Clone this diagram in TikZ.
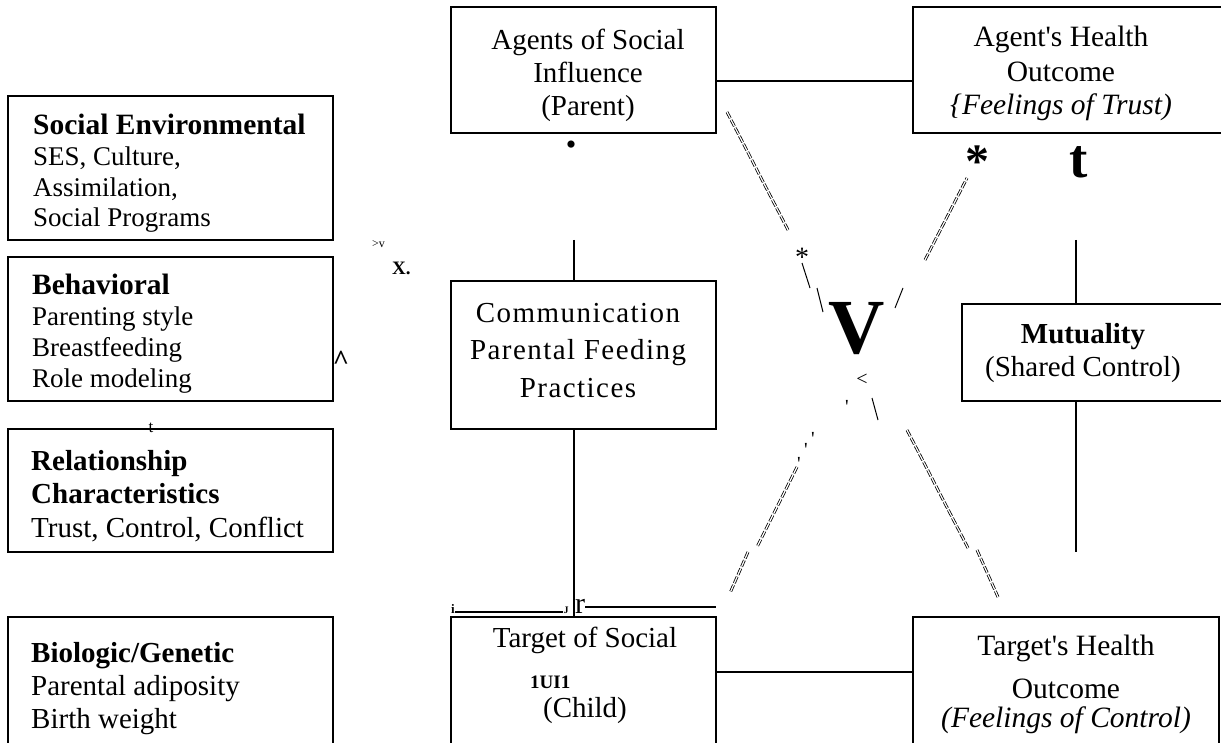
\documentclass[tikz,border=0pt]{standalone}
\usepackage{fontspec}
\setmainfont{Liberation Serif}
\usetikzlibrary{positioning,fit}

\tikzset{
  box/.style={draw, line width=1.3pt, inner sep=0pt},
  lbl/.style={inner sep=0pt, anchor=base west, align=left, font=\fontsize{29}{33}\selectfont},
  clbl/.style={inner sep=0pt, anchor=base, align=center, font=\fontsize{29}{33}\selectfont},
  link/.style={line width=1.3pt},
  hatch/.style={double, double distance=1.2pt, line width=0.8pt, dash pattern=on 7pt off 2pt},
  stroke/.style={line width=1pt},
  odd/.style={inner sep=0pt, anchor=base}
}
\newcommand\headbf[1]{{\fontsize{29.5}{30.7}\selectfont\bfseries #1}}

\begin{document}
\begin{tikzpicture}[x=1pt, y=-1pt]
  \useasboundingbox (0,0) rectangle (1221,743);
  \clip (0,0) rectangle (1221,743);

  % left column of factors (texts sit on the baseline of their last line)
  \node[box, fit={(8,96) (333,240)}] (socenv) {};
  \node[box, fit={(8,257) (333,401)}] (behav) {};
  \node[box, fit={(8,429) (333,552)}] (relat) {};
  \node[box, fit={(8,617) (333,760)}] (biol) {};
  \node[lbl, font=\fontsize{27}{30.7}\selectfont] (socenvtxt) at (33,227)
    {\headbf{Social Environmental}\\SES, Culture,\\Assimilation,\\Social Programs};
  \node[lbl, font=\fontsize{27}{30.7}\selectfont] (behavtxt) at (32,387)
    {\headbf{Behavioral}\\Parenting style\\Breastfeeding\\Role modeling};
  \node[lbl, font=\fontsize{29}{33.5}\selectfont] (relattxt) at (31,537)
    {\textbf{Relationship}\\\textbf{Characteristics}\\Trust, Control, Conflict};
  \node[lbl] (bioltxt) at (31,728)
    {\textbf{Biologic/Genetic}\\Parental adiposity\\Birth weight};

  % the model itself
  \node[box, fit={(451,7) (716,133)}] (agents) {};
  \node[box, fit={(451,281) (716,429)}] (comm) {};
  \node[box, fit={(451,617) (716,760)}] (target) {};
  \node[box, fit={(913,7) (1240,133)}] (agenth) {};
  \node[box, fit={(962,304) (1240,401)}] (mutual) {};
  \node[box, fit={(913,617) (1219,760)}] (targeth) {};

  \node[clbl] (agentstxt) at (588,116) {Agents of Social\\Influence\\(Parent)};
  \node[clbl, font=\fontsize{29}{37.5}\selectfont\addfontfeature{LetterSpace=5}] (commtxt) at (578,397)
    {Communication\\Parental Feeding\\Practices};
  \node[clbl] (targettxt) at (585,717) {Target of Social\\[37pt](Child)};
  \node[odd, anchor=base west, font=\bfseries\fontsize{19}{19}\selectfont] (uii) at (530,688) {1UI1};
  \node[clbl, font=\fontsize{29.5}{35}\selectfont] (agenthtxt) at (1061,115)
    {Agent\textquotesingle s Health\\Outcome\\[-2pt]\textit{\{Feelings of Trust)}};
  \node[clbl] (mutualtxt) at (1083,377) {\textbf{Mutuality}\\(Shared Control)};
  \node[clbl, font=\fontsize{29.5}{33}\selectfont] (targethtxt) at (1066,727)
    {Target\textquotesingle s Health\\[10pt]Outcome\\[-4pt]\textit{(Feelings of Control)}};

  % connectors
  \draw[link] ([yshift=-11pt]agents.east) -- ([yshift=-11pt]agenth.west);
  \draw[link] ([yshift=16.5pt]target.east) -- ([yshift=16.5pt]targeth.west);
  \coordinate (commtop) at (574,240);
  \draw[link] (commtop) -- (commtop |- comm.north);
  \draw[link] (commtop |- comm.south) -- (commtop |- target.north);
  \coordinate (muttop) at (1076,240);
  \coordinate (mutbot) at (1076,552);
  \draw[link] (muttop) -- (muttop |- mutual.north);
  \draw[link] (mutbot |- mutual.south) -- (mutbot);

  % bracket over the target box
  \node[odd, font=\bfseries\fontsize{13}{13}\selectfont] (bri) at (453,613) {i};
  \node[odd, font=\bfseries\fontsize{10}{10}\selectfont] (brj) at (566,613) {J};
  \node[odd, anchor=base west, font=\fontsize{30}{30}\selectfont] (brr) at (575,613) {r};
  \coordinate (brend) at (716,607);
  \draw[line width=2pt] ([yshift=1pt]bri.base east) -- ([yshift=1pt]brj.base west);
  \draw[line width=2pt] ([yshift=6pt]brr.base east) -- (brend);

  % crossing diagonals
  \draw[hatch] (727,112) -- (788,230);
  \draw[stroke] (802,263) -- (810,288);
  \draw[stroke] (817,288) -- (823,312);
  \draw[stroke] (903,288) -- (895,308);
  \draw[hatch] (925,260) -- (967,178);
  \draw[stroke] (872,398) -- (878,420);
  \draw[hatch] (797,467) -- (757,547);
  \draw[hatch] (748,552) -- (730,593);
  \draw[hatch] (907,430) -- (968,548);
  \draw[hatch] (977,550) -- (998,597);

  % stray marks
  \node[odd, font=\fontsize{30}{30}\selectfont] (dot) at (571,155) {\textbullet};
  \node[odd, font=\bfseries\fontsize{48}{48}\selectfont] (astbig) at (977,178) {*};
  \node[odd, font=\bfseries\fontsize{55}{55}\selectfont] (tbig) at (1079,178) {t};
  \node[odd, font=\fontsize{28}{28}\selectfont] (astsmall) at (802,267) {*};
  \node[odd, font=\bfseries\fontsize{78}{78}\selectfont] (vbig) at (857,353) {V};
  \node[odd, font=\fontsize{20}{20}\selectfont] (lt) at (862,385) {<};
  \node[odd, font=\fontsize{20}{20}\selectfont] (tick) at (847,413) {\textquotesingle};
  \node[odd, font=\fontsize{20}{20}\selectfont] (ticka) at (813,445) {\textquotesingle};
  \node[odd, font=\fontsize{20}{20}\selectfont] (tickb) at (806,456) {\textquotesingle};
  \node[odd, font=\fontsize{20}{20}\selectfont] (tickc) at (799,470) {\textquotesingle};
  \node[odd, anchor=base west, font=\fontsize{12}{12}\selectfont] (gtv) at (372,248) {>v};
  \node[odd, anchor=base west, font=\bfseries\fontsize{19}{19}\selectfont] (xdot) at (392,275) {X.};
  \node[odd, font=\bfseries\fontsize{28}{28}\selectfont] (caret) at (341,370) {\textasciicircum};
  \node[odd, font=\fontsize{17}{17}\selectfont] (tsmall) at (151,432) {t};
\end{tikzpicture}
\end{document}
